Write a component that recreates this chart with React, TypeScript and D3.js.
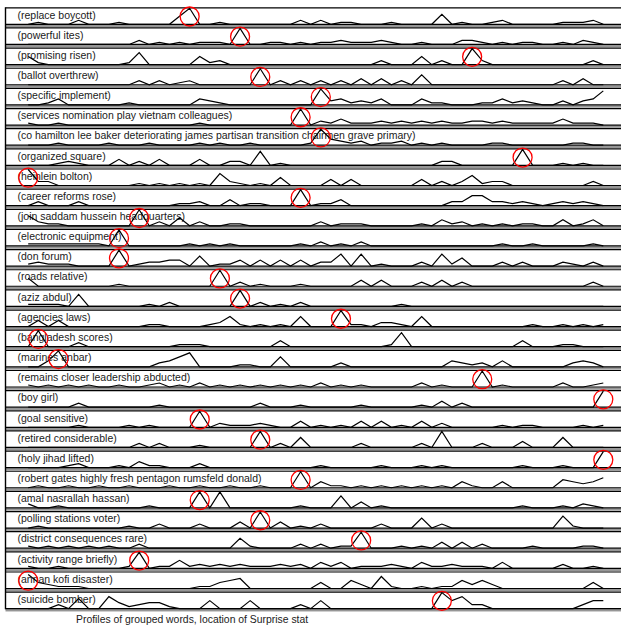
import React, { useEffect, useRef } from 'react';
import * as d3 from 'd3';

// word groups, one per row (top to bottom)
const LABELS: string[] = [
  '(replace boycott)',
  '(powerful ites)',
  '(promising risen)',
  '(ballot overthrew)',
  '(specific implement)',
  '(services nomination play vietnam colleagues)',
  '(co hamilton lee baker deteriorating james partisan transition chairmen grave primary)',
  '(organized square)',
  '(heinlein bolton)',
  '(career reforms rose)',
  '(join saddam hussein headquarters)',
  '(electronic equipment)',
  '(don forum)',
  '(roads relative)',
  '(aziz abdul)',
  '(agencies laws)',
  '(bangladesh scores)',
  '(marines anbar)',
  '(remains closer leadership abducted)',
  '(boy girl)',
  '(goal sensitive)',
  '(retired considerable)',
  '(holy jihad lifted)',
  '(robert gates highly fresh pentagon rumsfeld donald)',
  '(amal nasrallah hassan)',
  '(polling stations voter)',
  '(district consequences rare)',
  '(activity range briefly)',
  '(annan kofi disaster)',
  '(suicide bomber)',
];

const PROFILES: string[] = [
  '0100020001 0000048001 0000000202 0110001000 0501001200 00011120',
  '0000000000 0201010111 0800110101 1211121001 0002210101 10010210',
  '4100000000 1600000412 0000000000 0000020004 0200820000 00000020',
  '0000000000 0202012000 0008020202 0203030205 0000000000 00020300',
  '0013000000 1000000321 0000000008 2312130003 1100011312 10020237',
  '1001000000 0000000100 0000000802 1311121212 1211221211 11131110',
  '0001000010 0010000101 0010000018 3212011201 0100001100 00001100',
  '0001210003 0203000300 2207010000 0000000000 0220000008 00010100',
  '8220000000 0101010106 2101040000 3030000003 0202512200 00000020',
  '0200020000 0000011200 3011000801 1300000000 0022552212 10121210',
  '5211000000 0802040200 1100000002 0111000001 0312010101 10030130',
  '1111111108 0000001010 1000000102 0102000000 0000000100 10000010',
  '1211100008 0122330501 1303030302 2606010002 0614000202 00021020',
  '4000000001 0000000008 0201000100 0003030002 0302000000 00000020',
  '1111060000 0010200000 0802010200 0000000100 0000000000 00000000',
  '0303000000 0011000012 5101010500 0811022105 0000000000 10010101',
  '0800020000 0000011100 0000030000 0000001700 0000000003 00011000',
  '0038000000 0002357000 0110050000 0200000000 0032120300 00002320',
  '1010101001 0012010201 0101010102 0101000002 0100080100 00020012',
  '0000020000 0001000000 0002000100 0001000001 0302000000 00000008',
  '0000010000 1010000802 1112100301 0103030103 0200000101 10000101',
  '0000000000 0202000100 0008020500 0002000002 0800020003 00050000',
  '0000120001 0311000200 0000000001 0000010001 0100000001 00010008',
  '0100100100 1000100100 1001000803 1101010101 0103100300 00043235',
  '2001000000 0010000808 0000000100 0603010000 0000000001 00010210',
  '0100000000 1002000200 0308030102 0000020005 0200000000 00061000',
  '1010101010 0200000000 0510000202 0118000101 0303020000 10000110',
  '1001000000 1801141212 1211121203 1301112103 1121110300 00020010',
  '7321110000 0000000113 4500000003 0042061001 0114242000 00000030',
  '0002050063 1233100040 0040000204 0000000000 0846220000 00000244',
];

// time step where the Surprise stat peaks, per row
const SURPRISE: number[] = [
  16, 21, 44, 23, 29, 27, 29, 49, 0, 27, 11, 9, 9, 19, 21,
  31, 1, 3, 45, 57, 17, 23, 57, 27, 17, 23, 33, 11, 0, 41,
];

const CAPTION = 'Profiles of grouped words, location of Surprise stat';

const parse = (s: string) => s.replace(/\s/g, '').split('').map(Number);

const FONT = '"Liberation Sans", Arial, Helvetica, sans-serif';

export default function App() {
  const ref = useRef<SVGSVGElement>(null);

  useEffect(() => {
    const svgEl = ref.current;
    if (!svgEl) return;
    const svg = d3.select(svgEl);
    svg.selectAll('*').remove();

    const W = 621;
    const left = 5.5;
    const rowH = 17;

    const rowTop = d3.scaleLinear().domain([0, 1]).range([7.3, 27.45]);
    const x = d3.scaleLinear().domain([0, 57]).range([28.2, 603.3]);

    svg.append('rect').attr('width', W).attr('height', 625).attr('fill', '#fff');

    LABELS.forEach((label, i) => {
      const top = rowTop(i);
      const y = d3.scaleLinear().domain([0, 8]).range([top + rowH, top + 1]);
      const vals = parse(PROFILES[i]);
      const g = svg.append('g');

      // gap band between panels
      g.append('rect')
        .attr('x', left)
        .attr('y', top + rowH + 0.4)
        .attr('width', W - left)
        .attr('height', 2.4)
        .attr('fill', '#969696');

      g.append('line')
        .attr('x1', left).attr('x2', W)
        .attr('y1', top + 0.5).attr('y2', top + 0.5)
        .attr('stroke', '#000').attr('stroke-width', 1.2);
      g.append('line')
        .attr('x1', left).attr('x2', W)
        .attr('y1', top + rowH).attr('y2', top + rowH)
        .attr('stroke', '#000').attr('stroke-width', 1.2);

      g.append('text')
        .attr('x', 17.5)
        .attr('y', top + 11.2)
        .attr('font-family', FONT)
        .attr('font-size', 10.5)
        .attr('fill', '#1a1a1a')
        .text(label);

      const line = d3
        .line<number>()
        .x((_, k) => x(k))
        .y((d) => y(d));

      g.append('path')
        .attr('d', line(vals) ?? '')
        .attr('fill', 'none')
        .attr('stroke', '#000')
        .attr('stroke-width', 1.2)
        .attr('stroke-linejoin', 'miter');

      g.append('circle')
        .attr('cx', x(SURPRISE[i]))
        .attr('cy', top + 9.2)
        .attr('r', 9.5)
        .attr('fill', 'none')
        .attr('stroke', '#f00')
        .attr('stroke-width', 1.3);
    });

    // left frame edge
    svg.append('line')
      .attr('x1', left).attr('x2', left)
      .attr('y1', rowTop(0)).attr('y2', rowTop(LABELS.length - 1) + rowH + 0.5)
      .attr('stroke', '#000').attr('stroke-width', 1.4);

    svg.append('text')
      .attr('x', 76)
      .attr('y', 622.5)
      .attr('font-family', FONT)
      .attr('font-size', 10.4)
      .attr('fill', '#1a1a1a')
      .text(CAPTION);
  }, []);

  return (
    <svg
      ref={ref}
      width={621}
      height={625}
      style={{ position: 'absolute', left: 0, top: 0, display: 'block' }}
    />
  );
}
